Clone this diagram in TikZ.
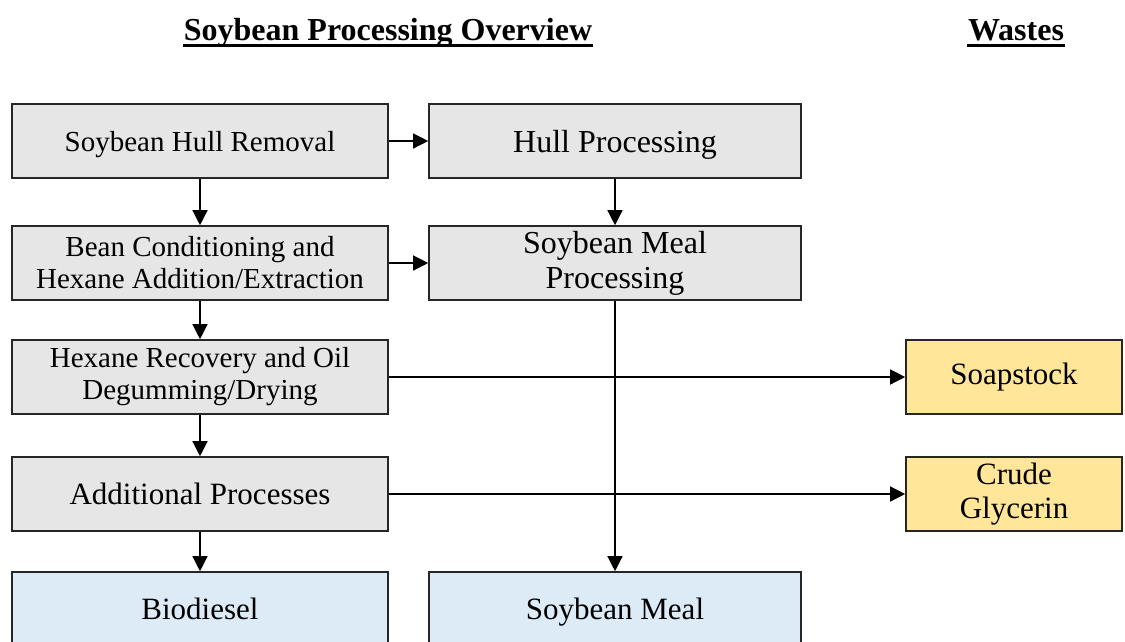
\documentclass[tikz,border=0pt]{standalone}
\usepackage{fontspec}
\setmainfont{Liberation Serif}
\usetikzlibrary{positioning,arrows.meta}

\definecolor{boxgray}{RGB}{230,230,230}
\definecolor{wasteyel}{RGB}{255,230,153}
\definecolor{prodblue}{RGB}{221,235,247}

\begin{document}
\begin{tikzpicture}[x=1pt,y=-1pt,line width=1.3pt,>={Triangle[length=15pt,width=15pt]}]
\tikzstyle{pv} = [draw=black!85,line width=1.6pt,fill=boxgray,shape=rectangle,minimum width=376pt,minimum height=74pt,align=center,inner sep=0pt,font=\fontsize{29}{32}\selectfont]
\tikzstyle{ov} = [pv,fill=prodblue,font=\fontsize{31}{34}\selectfont]
\tikzstyle{wv} = [pv,fill=wasteyel,minimum width=216pt,font=\fontsize{31}{34}\selectfont]
\tikzstyle{ttl} = [inner sep=0pt,anchor=base,font=\bfseries\fontsize{32}{36}\selectfont]
\useasboundingbox (0,0) rectangle (1125,641);
\clip (0,0) rectangle (1125,641);
% headings
\node[ttl] (title) at (388,40) {Soybean Processing Overview};
\node[ttl] (wastes) at (1016,40) {Wastes};
\draw[line width=3pt] ([yshift=-5pt]title.base west) -- ([yshift=-5pt]title.base east);
\draw[line width=3pt] ([yshift=-5pt]wastes.base west) -- ([yshift=-5pt]wastes.base east);
% process steps
\node[pv,text depth=0pt] (hull) at (200,141) {Soybean Hull Removal};
\node[pv,text depth=0pt,minimum width=372pt,font=\fontsize{32}{35}\selectfont] (hullproc) at (615,141) {Hull Processing};
\node[pv] (cond) at (200,263) {Bean Conditioning and\\Hexane Addition/Extraction};
\node[pv,minimum width=372pt,font=\fontsize{32}{35}\selectfont] (mealproc) at (615,263) {Soybean Meal\\Processing};
\node[pv] (recov) at (200,377) {Hexane Recovery and Oil\\Degumming/Drying};
\node[pv,font=\fontsize{31}{34}\selectfont] (addl) at (200,494) {Additional Processes};
% products
\node[ov] (biod) at (200,609) {Biodiesel};
\node[ov,text depth=0pt,minimum width=372pt] (meal) at (615,609) {Soybean Meal};
% wastes
\node[wv] (soap) at (1014,377) {Soapstock};
\node[wv] (glyc) at (1014,494) {Crude\\Glycerin};
% flows
\draw[->] (hull) -- (hullproc);
\draw[->] (hull) -- (cond);
\draw[->] (hullproc) -- (mealproc);
\draw[->] (cond) -- (mealproc);
\draw[->] (cond) -- (recov);
\draw[->] (recov) -- (addl);
\draw[->] (recov) -- (soap);
\draw[->] (addl) -- (glyc);
\draw[->] (addl) -- (biod);
\draw[->] (mealproc) -- (meal);
\end{tikzpicture}
\end{document}
